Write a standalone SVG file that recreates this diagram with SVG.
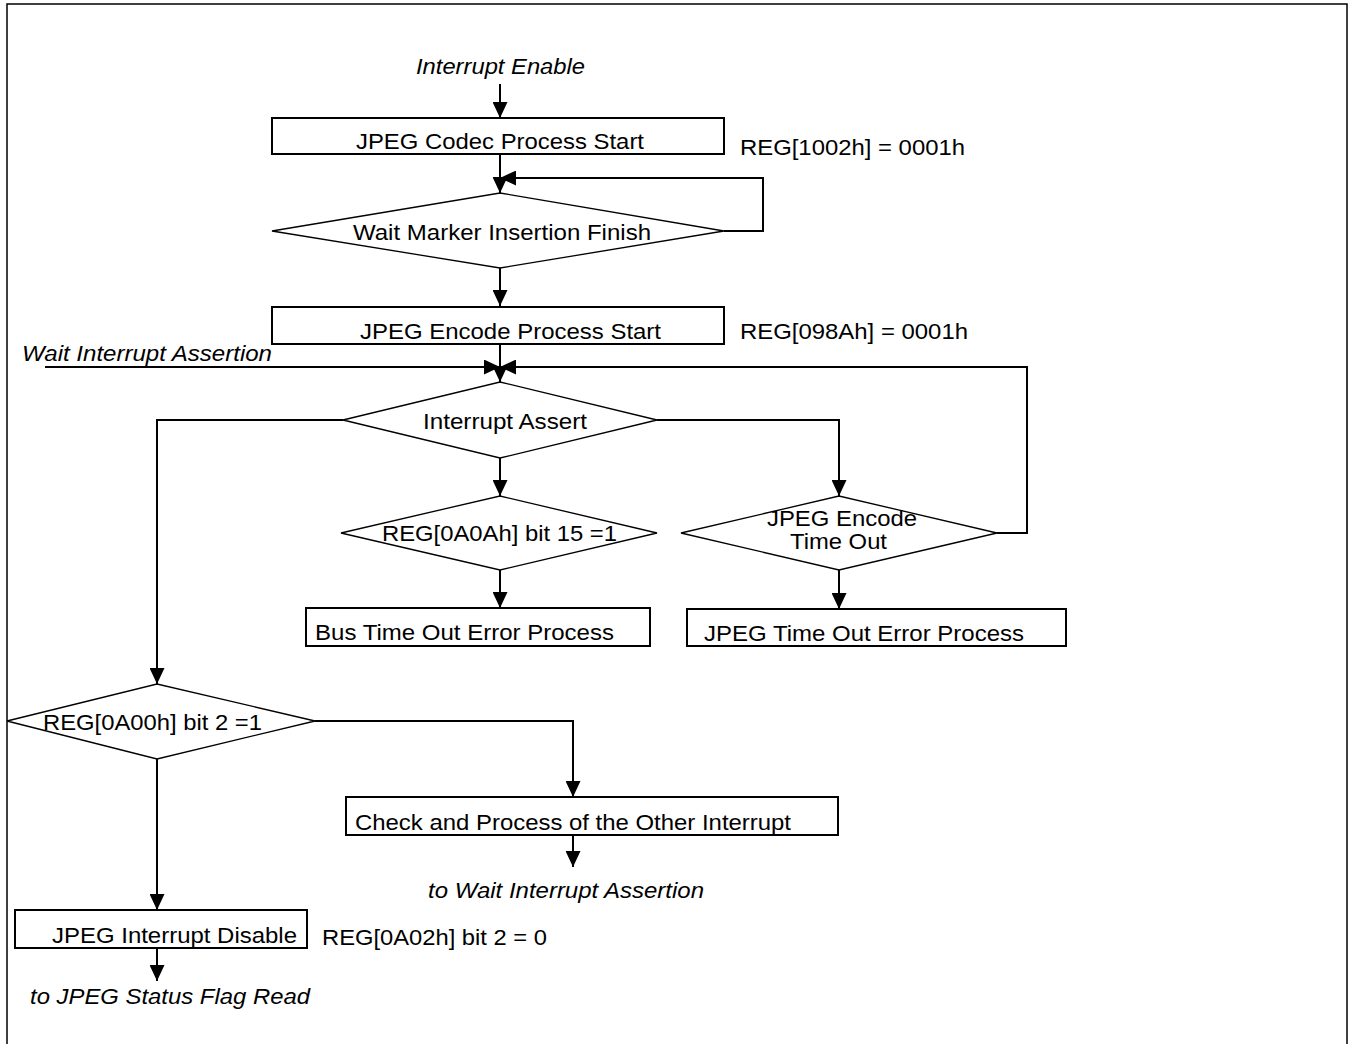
<svg xmlns="http://www.w3.org/2000/svg" width="1356" height="1044" viewBox="0 0 1356 1044">
<style>
.box{fill:#fff;stroke:#000;stroke-width:2}
.dia{fill:#fff;stroke:#000;stroke-width:1.3}
.t{font-family:"Liberation Sans",Arial,sans-serif;font-size:22px;fill:#000}
.i{font-style:italic}
.c{fill:none;stroke:#000;stroke-width:2}
</style>
<defs>
<marker id="ah" markerUnits="userSpaceOnUse" markerWidth="16" markerHeight="15" refX="16" refY="7.5" orient="auto">
<path d="M0,0 L16,7.5 L0,15 z" fill="#000"/>
</marker>
</defs>
<rect x="7" y="4" width="1340" height="1060" fill="#fff" stroke="#000" stroke-width="1.5"/>
<g id="connectors" class="c">
<path class="c" d="M500,84 V118" marker-end="url(#ah)"/>
<path class="c" d="M500,154 V193" marker-end="url(#ah)"/>
<path class="c" d="M724,231 H763 V178 H500" marker-end="url(#ah)"/>
<path class="c" d="M500,268 V306" marker-end="url(#ah)"/>
<path class="c" d="M500,344 V382" marker-end="url(#ah)"/>
<path class="c" d="M45,367 H500" marker-end="url(#ah)"/>
<path class="c" d="M997,533 H1027 V367 H500" marker-end="url(#ah)"/>
<path class="c" d="M343,420 H157 V684" marker-end="url(#ah)"/>
<path class="c" d="M657,420 H839 V496" marker-end="url(#ah)"/>
<path class="c" d="M500,458 V496" marker-end="url(#ah)"/>
<path class="c" d="M500,570 V608" marker-end="url(#ah)"/>
<path class="c" d="M839,570 V609" marker-end="url(#ah)"/>
<path class="c" d="M315,721 H573 V797" marker-end="url(#ah)"/>
<path class="c" d="M573,835 V867" marker-end="url(#ah)"/>
<path class="c" d="M157,759 V910" marker-end="url(#ah)"/>
<path class="c" d="M157,948 V981" marker-end="url(#ah)"/>
</g>
<g id="label-interrupt-enable"><text class="t i" x="416" y="74" textLength="169" lengthAdjust="spacingAndGlyphs">Interrupt Enable</text></g>
<g id="codec-start">
<rect class="box" x="272" y="118" width="452" height="36"/>
<text class="t" x="356" y="149" textLength="288" lengthAdjust="spacingAndGlyphs">JPEG Codec Process Start</text>
</g>
<g id="reg-1002"><text class="t" x="740" y="155" textLength="225" lengthAdjust="spacingAndGlyphs">REG[1002h] = 0001h</text></g>
<g id="wait-marker">
<polygon class="dia" points="272,231 500,193 724,231 500,268"/>
<text class="t" x="353" y="240" textLength="298" lengthAdjust="spacingAndGlyphs">Wait Marker Insertion Finish</text>
</g>
<g id="encode-start">
<rect class="box" x="272" y="307" width="452" height="37"/>
<text class="t" x="360" y="339" textLength="301" lengthAdjust="spacingAndGlyphs">JPEG Encode Process Start</text>
</g>
<g id="reg-098a"><text class="t" x="740" y="339" textLength="228" lengthAdjust="spacingAndGlyphs">REG[098Ah] = 0001h</text></g>
<g id="label-wait-interrupt"><text class="t i" x="22" y="361" textLength="250" lengthAdjust="spacingAndGlyphs">Wait Interrupt Assertion</text></g>
<g id="interrupt-assert">
<polygon class="dia" points="343,420 500,382 657,420 500,458"/>
<text class="t" x="423" y="429" textLength="164" lengthAdjust="spacingAndGlyphs">Interrupt Assert</text>
</g>
<g id="reg-0a0a">
<polygon class="dia" points="341,533 500,496 657,533 500,570"/>
<text class="t" x="382" y="541" textLength="235" lengthAdjust="spacingAndGlyphs">REG[0A0Ah] bit 15 =1</text>
</g>
<g id="encode-timeout">
<polygon class="dia" points="681,533 839,496 997,533 839,570"/>
<text class="t" x="767" y="526" textLength="150" lengthAdjust="spacingAndGlyphs">JPEG Encode</text>
<text class="t" x="790" y="549" textLength="97" lengthAdjust="spacingAndGlyphs">Time Out</text>
</g>
<g id="bus-timeout">
<rect class="box" x="306" y="608" width="344" height="38"/>
<text class="t" x="315" y="640" textLength="299" lengthAdjust="spacingAndGlyphs">Bus Time Out Error Process</text>
</g>
<g id="jpeg-timeout">
<rect class="box" x="687" y="609" width="379" height="37"/>
<text class="t" x="704" y="641" textLength="320" lengthAdjust="spacingAndGlyphs">JPEG Time Out Error Process</text>
</g>
<g id="reg-0a00">
<polygon class="dia" points="7,721 157,684 315,721 157,759"/>
<text class="t" x="43" y="730" textLength="219" lengthAdjust="spacingAndGlyphs">REG[0A00h] bit 2 =1</text>
</g>
<g id="other-interrupt">
<rect class="box" x="346" y="797" width="492" height="38"/>
<text class="t" x="355" y="830" textLength="436" lengthAdjust="spacingAndGlyphs">Check and Process of the Other Interrupt</text>
</g>
<g id="label-to-wait"><text class="t i" x="428" y="898" textLength="276" lengthAdjust="spacingAndGlyphs">to Wait Interrupt Assertion</text></g>
<g id="interrupt-disable">
<rect class="box" x="15" y="910" width="292" height="38"/>
<text class="t" x="52" y="943" textLength="245" lengthAdjust="spacingAndGlyphs">JPEG Interrupt Disable</text>
</g>
<g id="reg-0a02"><text class="t" x="322" y="945" textLength="225" lengthAdjust="spacingAndGlyphs">REG[0A02h] bit 2 = 0</text></g>
<g id="label-to-status"><text class="t i" x="30" y="1004" textLength="280" lengthAdjust="spacingAndGlyphs">to JPEG Status Flag Read</text></g>
</svg>
